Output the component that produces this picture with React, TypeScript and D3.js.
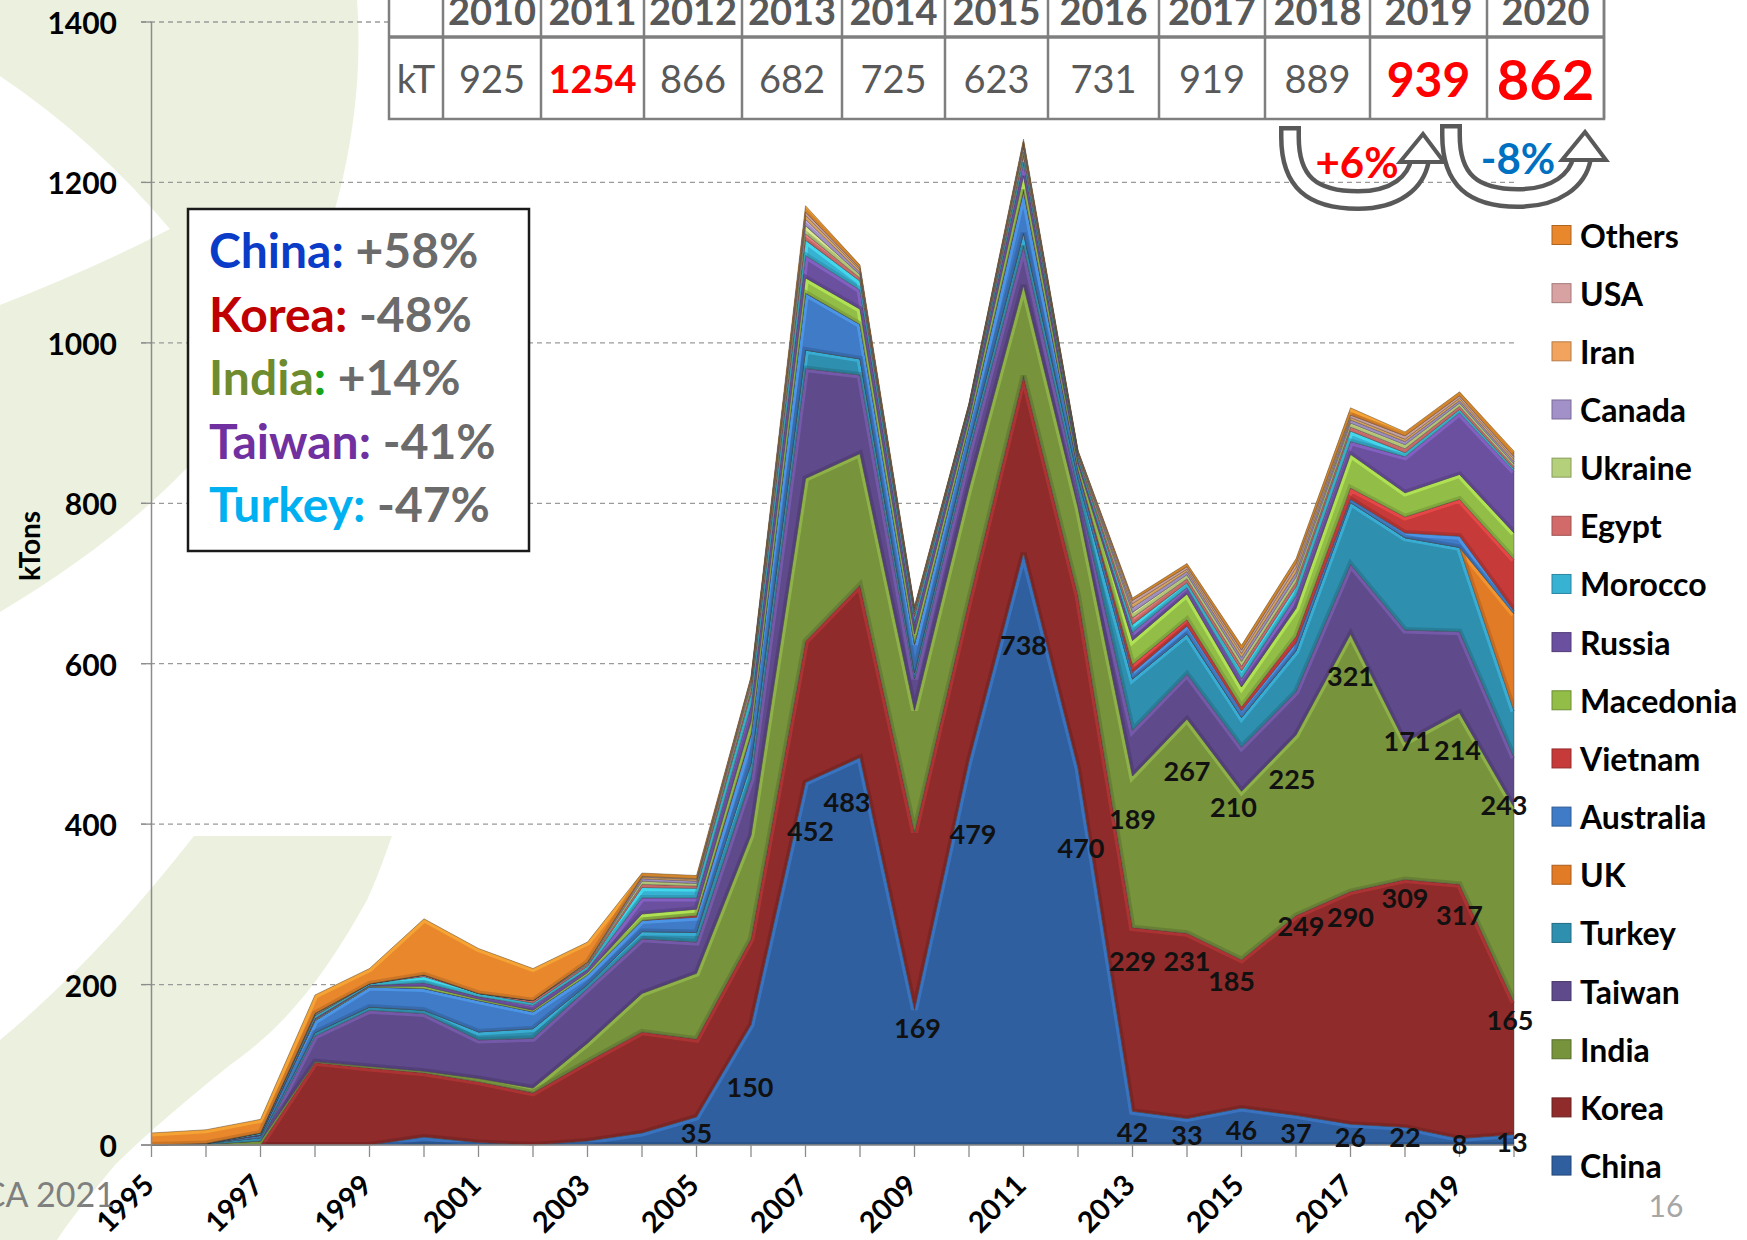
import React from "react";
import * as d3 from "d3";

// ---- data (kTons per year, 1995-2020) ----
const years = [1995, 1996, 1997, 1998, 1999, 2000, 2001, 2002, 2003, 2004, 2005, 2006, 2007,
  2008, 2009, 2010, 2011, 2012, 2013, 2014, 2015, 2016, 2017, 2018, 2019, 2020];

const china = [0, 0, 0, 0, 0, 10, 3, 0, 5, 15, 35, 150, 452, 483, 169, 479, 738, 470, 42, 33, 46, 37, 26, 22, 8, 13];
const korea = [0, 0, 0, 103, 96, 80, 76, 65, 99, 126, 97, 107, 176, 215, 221, 200, 221, 215, 229, 231, 185, 249, 290, 309, 317, 165];
const india = [0, 1, 5, 1, 2, 2, 4, 6, 23, 48, 82, 129, 203, 164, 152, 140, 113, 110, 189, 267, 210, 225, 321, 171, 214, 243];
const taiwan = [0, 0, 0, 32, 70, 72, 48, 62, 68, 68, 39, 70, 137, 98, 39, 45, 49, 22, 57, 56, 55, 54, 87, 140, 101, 62];
const turkey = [0, 1, 4, 4, 4, 4, 10, 12, 5, 9, 12, 20, 23, 20, 8, 10, 16, 14, 64, 50, 37, 51, 77, 115, 105, 58];
const uk = [0, 0, 0, 0, 0, 0, 0, 0, 0, 0, 0, 0, 0, 0, 0, 0, 0, 0, 0, 0, 0, 0, 0, 0, 0, 121];
const australia = [0, 0, 3, 15, 25, 27, 39, 21, 12, 14, 19, 35, 71, 43, 35, 22, 52, 10, 8, 10, 8, 10, 4, 6, 14, 4];
const vietnam = [0, 0, 0, 0, 0, 0, 0, 0, 0, 0, 2, 2, 0, 0, 1, 1, 2, 2, 10, 8, 5, 8, 14, 20, 46, 64];
const macedonia = [0, 0, 0, 1, 1, 3, 2, 2, 3, 8, 8, 15, 19, 19, 12, 8, 17, 6, 30, 32, 25, 35, 42, 30, 31, 33];
const russia = [0, 0, 1, 2, 1, 4, 3, 6, 4, 20, 14, 20, 28, 24, 14, 8, 17, 5, 10, 8, 10, 15, 16, 45, 77, 77];
const morocco = [0, 0, 2, 3, 2, 8, 4, 3, 4, 13, 12, 15, 19, 11, 8, 4, 8, 4, 10, 6, 10, 12, 13, 5, 4, 3];
const egypt = [0, 0, 0, 1, 0, 2, 0, 3, 2, 4, 3, 5, 8, 4, 3, 2, 5, 2, 8, 5, 6, 6, 5, 5, 4, 3];
const ukraine = [0, 0, 0, 1, 0, 0, 0, 0, 1, 4, 3, 5, 10, 4, 3, 2, 5, 2, 7, 5, 6, 6, 5, 5, 4, 3];
const canada = [0, 0, 0, 1, 0, 0, 0, 0, 1, 3, 3, 4, 8, 3, 2, 1, 3, 1, 6, 4, 5, 6, 4, 4, 3, 3];
const iran = [0, 0, 0, 0, 0, 0, 0, 0, 1, 2, 2, 3, 5, 3, 2, 1, 3, 1, 5, 3, 5, 6, 3, 3, 3, 3];
const usa = [0, 0, 0, 0, 0, 0, 0, 0, 0, 1, 1, 2, 4, 2, 1, 1, 2, 1, 4, 3, 4, 5, 3, 4, 3, 3];
const others = [15, 17, 17, 23, 19, 70, 56, 40, 25, 4, 4, 2, 8, 4, 2, 1, 3, 1, 3, 4, 6, 6, 9, 5, 5, 7];

const seriesNames = ["China", "Korea", "India", "Taiwan", "Turkey", "UK", "Australia", "Vietnam",
  "Macedonia", "Russia", "Morocco", "Egypt", "Ukraine", "Canada", "Iran", "USA", "Others"];
const seriesValues = [china, korea, india, taiwan, turkey, uk, australia, vietnam,
  macedonia, russia, morocco, egypt, ukraine, canada, iran, usa, others];
const seriesColors = ["#2f5f9f", "#8f2b2a", "#77933c", "#5f4a8b", "#2f8faf", "#e27b26", "#3f7bc6", "#c63a3a",
  "#92bd46", "#6c50a0", "#38b2d3", "#d36a6a", "#b5d07a", "#a290c8", "#f2a45e", "#d9a2a2", "#e8872c"];

// totals table on top
const tableYears = ["2010", "2011", "2012", "2013", "2014", "2015", "2016", "2017", "2018", "2019", "2020"];
const tableTotals = [925, 1254, 866, 682, 725, 623, 731, 919, 889, 939, 862];

// change box
const boxCountries = ["China", "Korea", "India", "Taiwan", "Turkey"];
const boxChanges = ["+58%", "-48%", "+14%", "-41%", "-47%"];
const yearChanges = ["+6%", "-8%"];

// which series carry value labels, and how far each label was nudged off the point (px)
const labelYears = {
  China: [2005, 2006, 2007, 2008, 2009, 2010, 2011, 2012, 2013, 2014, 2015, 2016, 2017, 2018, 2019, 2020],
  Korea: [2013, 2014, 2015, 2016, 2017, 2018, 2019, 2020],
  India: [2013, 2014, 2015, 2016, 2017, 2018, 2019, 2020],
};
const labelNudge = {
  China: [[0, 16], [-1, 62], [5, 48], [-13, 44], [3, 18], [4, 73], [0, 91], [3, 80],
    [0, 20], [0, 16], [0, 21], [0, 17], [0, 12], [0, 9], [0, 5], [-2, 7]],
  Korea: [[0, 33], [0, 27], [-10, 21], [5, 10], [0, 25], [0, 18], [0, 30], [-4, 17]],
  India: [[0, 42], [0, 51], [-8, 15], [-4, 43], [0, 41], [2, -2], [-2, 37], [-10, -3]],
};

const FONT = "Lato, 'Open Sans', Arial, sans-serif";
const W = 1747;
const H = 1240;

const x = d3.scaleLinear().domain([1995, 2020]).range([151.5, 1514]);
const y = d3.scaleLinear().domain([0, 1400]).range([1145, 22]);

const rows = years.map((yr, i) => {
  const r: any = { year: yr };
  seriesNames.forEach((n, j) => (r[n] = seriesValues[j][i]));
  return r;
});
const stacked = d3.stack().keys(seriesNames)(rows);

const area = d3.area<any>()
  .x((d) => x(d.data.year))
  .y0((d) => y(d[0]))
  .y1((d) => y(d[1]));
const topLine = d3.line<any>().x((d) => x(d.data.year)).y((d) => y(d[1]));
const bottomLine = d3.line<any>().x((d) => x(d.data.year)).y((d) => y(d[0]));

// table layout
const tableLeft = 389;
const firstColW = 54;
const colWidths = [98, 103, 98, 100, 103, 103, 111, 106, 105, 117, 117];

const UArrow = ({ lx, ty, by, mx, rx, hb }) => {
  const d = `M${lx},${ty} C${lx},${ty + 45} ${lx + 22},${by} ${mx},${by} C${mx + 38},${by} ${rx - 4},${by - 18} ${rx},${hb}`;
  const head = `M${rx + 3},${ty - 3} L${rx + 24},${hb + 2} L${rx - 20},${hb + 2} Z`;
  return (
    <g>
      <path d={d} fill="none" stroke="#595959" strokeWidth={22} strokeLinecap="square" />
      <path d={d} fill="none" stroke="#fff" strokeWidth={13} strokeLinecap="square" />
      <path d={head} fill="#fff" stroke="#595959" strokeWidth={4} strokeLinejoin="miter" />
    </g>
  );
};

const App = () => {
  const tableCols = [];
  let cx = tableLeft + firstColW;
  colWidths.forEach((w) => {
    tableCols.push({ x0: cx, w });
    cx += w;
  });
  const tableRight = cx;

  const valueStyle = (i) => {
    if (i === 10) return { fill: "#ff0000", weight: 700, size: 56 };
    if (i === 9) return { fill: "#ff0000", weight: 700, size: 48 };
    if (i === 1) return { fill: "#ff0000", weight: 700, size: 38 };
    return { fill: "#595959", weight: 400, size: 38 };
  };

  const labels = [];
  Object.keys(labelYears).forEach((name) => {
    const si = seriesNames.indexOf(name);
    labelYears[name].forEach((yr, k) => {
      const i = years.indexOf(yr);
      const [dx, dy] = labelNudge[name][k];
      labels.push({
        key: `${name}-${yr}`,
        x: x(yr) + dx,
        y: y(stacked[si][i][1]) + dy,
        text: seriesValues[si][i],
      });
    });
  });

  const boxColors = ["#0a3cc8", "#c00000", "#6e8b2e", "#7030a0", "#00b0f0"];

  return (
    <svg width={W} height={H} style={{ position: "absolute", left: 0, top: 0, background: "#fff" }}
      fontFamily={FONT}>
      {/* slide background ornaments */}
      <path d="M0,0 L357,0 C366,120 335,265 255,385 C185,485 100,552 0,612 Z" fill="#ebf1de" />
      <path d="M0,76 Q95,140 170,229 Q95,268 0,305 Z" fill="#fff" />
      <path d="M194,836 L392,836 C380,870 372,890 367,900 C320,985 280,1030 230,1065 C180,1105 140,1140 115,1165 C90,1195 70,1220 57,1240 L0,1240 L0,1040 C60,990 120,930 194,836 Z"
        fill="#ebf1de" />

      {/* grid */}
      {y.ticks(7).filter((t) => t > 0).map((t) => (
        <line key={t} x1={141} x2={1514} y1={y(t)} y2={y(t)} stroke="#9a9a9a" strokeWidth={1.3}
          strokeDasharray="5,4" />
      ))}

      {/* stacked areas with a bevel-ish edge */}
      <defs>
        {stacked.map((s, i) => (
          <clipPath key={s.key} id={`clip-${i}`}>
            <path d={area(s)} />
          </clipPath>
        ))}
      </defs>
      {stacked.map((s, i) => {
        const c = seriesColors[i];
        const light = d3.color(c).brighter(0.9).formatHex();
        const dark = d3.color(c).darker(0.9).formatHex();
        return (
          <g key={s.key}>
            <path d={area(s)} fill={c} />
            <g clipPath={`url(#clip-${i})`}>
              <path d={topLine(s)} fill="none" stroke={light} strokeWidth={7} opacity={0.55} />
              <path d={bottomLine(s)} fill="none" stroke={dark} strokeWidth={6} opacity={0.45} />
            </g>
            <path d={area(s)} fill="none" stroke="#3d3d3d" strokeWidth={0.8} strokeOpacity={0.5} />
          </g>
        );
      })}

      {/* axes */}
      <line x1={151.5} x2={151.5} y1={22} y2={1145} stroke="#8c8c8c" strokeWidth={1.5} />
      <line x1={141} x2={1514} y1={1145} y2={1145} stroke="#8c8c8c" strokeWidth={1.5} />
      {y.ticks(7).map((t) => (
        <g key={t}>
          <line x1={141} x2={151.5} y1={y(t)} y2={y(t)} stroke="#8c8c8c" strokeWidth={1.3} />
          <text x={117} y={y(t)} textAnchor="end" dominantBaseline="central" fontSize={30}
            fontWeight={700} fill="#000">{t}</text>
        </g>
      ))}
      {years.map((yr) => (
        <line key={yr} x1={x(yr)} x2={x(yr)} y1={1145} y2={1157} stroke="#8c8c8c" strokeWidth={1.3} />
      ))}
      {years.filter((yr) => (yr - 1995) % 2 === 0 && yr < 2020).map((yr) => (
        <text key={yr} transform={`translate(${x(yr) + 4.5},${1187}) rotate(-45)`} textAnchor="end"
          fontSize={29} fontWeight={700} fill="#000">{yr}</text>
      ))}
      <text transform="translate(40,546) rotate(-90)" textAnchor="middle" fontSize={28} fontWeight={700}
        fill="#000">kTons</text>

      {/* value labels */}
      {labels.map((l) => (
        <text key={l.key} x={l.x} y={l.y} textAnchor="middle" dominantBaseline="central" fontSize={27}
          fontWeight={700} fill="#111">{l.text}</text>
      ))}

      {/* totals table */}
      <g>
        <rect x={tableLeft} y={-20} width={tableRight - tableLeft} height={139} fill="#fff" stroke="#7f7f7f"
          strokeWidth={2.5} />
        <line x1={tableLeft} x2={tableRight} y1={37} y2={37} stroke="#7f7f7f" strokeWidth={3.5} />
        <line x1={tableLeft + firstColW} x2={tableLeft + firstColW} y1={-20} y2={119} stroke="#7f7f7f"
          strokeWidth={2.5} />
        {tableCols.map((c, i) => (
          <line key={`v${i}`} x1={c.x0 + c.w} x2={c.x0 + c.w} y1={-20} y2={119} stroke="#7f7f7f"
            strokeWidth={2.5} />
        ))}
        <text x={tableLeft + firstColW / 2} y={93} textAnchor="middle" fontSize={38} fill="#595959">kT</text>
        {tableCols.map((c, i) => {
          const st = valueStyle(i);
          const base = i === 10 ? 100 : i === 9 ? 97 : 93;
          return (
            <g key={tableYears[i]}>
              <text x={c.x0 + c.w / 2} y={25} textAnchor="middle" fontSize={38} fontWeight={700}
                fill="#595959">{tableYears[i]}</text>
              <text x={c.x0 + c.w / 2} y={base} textAnchor="middle" fontSize={st.size} fontWeight={st.weight}
                fill={st.fill}>{tableTotals[i]}</text>
            </g>
          );
        })}
      </g>

      {/* year on year arrows */}
      <UArrow lx={1290} ty={137} by={200} mx={1358} rx={1420} hb={160} />
      <UArrow lx={1451} ty={135} by={198} mx={1518} rx={1582} hb={158} />
      <text x={1357} y={162} textAnchor="middle" dominantBaseline="central" fontSize={42} fontWeight={700}
        fill="#ff0000">{yearChanges[0]}</text>
      <text x={1518} y={158} textAnchor="middle" dominantBaseline="central" fontSize={42} fontWeight={700}
        fill="#0070c0">{yearChanges[1]}</text>

      {/* change box */}
      <rect x={188} y={209} width={341} height={342} fill="#fff" stroke="#1a1a1a" strokeWidth={2.5} />
      {boxCountries.map((c, i) => (
        <text key={c} x={209} y={268 + i * 63.5} fontSize={48} fontWeight={700}>
          <tspan fill={boxColors[i]}>{c}</tspan>
          <tspan fill={i === 2 ? "#1aa31a" : boxColors[i]}>:</tspan>
          <tspan fill="#6b6b6b">{` ${boxChanges[i]}`}</tspan>
        </text>
      ))}

      {/* legend */}
      {seriesNames.slice().reverse().map((n, k) => {
        const si = seriesNames.indexOf(n);
        const cy = 235 + k * 58.16;
        return (
          <g key={n}>
            <rect x={1552} y={cy - 9.5} width={19} height={19} fill={seriesColors[si]}
              stroke={d3.color(seriesColors[si]).darker(0.8).formatHex()} strokeWidth={1} />
            <text x={1580} y={cy} dominantBaseline="central" fontSize={32} fontWeight={700} fill="#000">{n}</text>
          </g>
        );
      })}

      {/* slide footer */}
      <text x={115} y={1207} textAnchor="end" fontSize={34} fill="#7f7f7f">CA 2021</text>
      <text x={1666} y={1205} textAnchor="middle" dominantBaseline="central" fontSize={30} fill="#a6a6a6">16</text>
    </svg>
  );
};

export default App;
